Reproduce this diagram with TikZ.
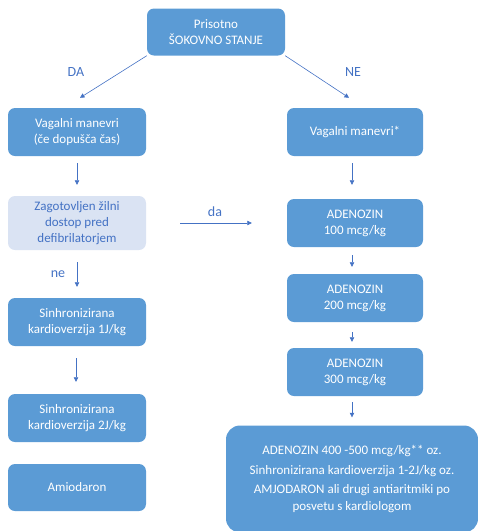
\documentclass[tikz,border=0pt]{standalone}
\usepackage{fontspec}
\setmainfont{Carlito}
\usetikzlibrary{arrows.meta}
\definecolor{boxblue}{HTML}{5B9BD5}
\definecolor{paleblue}{HTML}{DAE3F3}
\definecolor{linkblue}{HTML}{4472C4}
\begin{document}
\begin{tikzpicture}[x=1pt,y=-1pt,
  stepbox/.style={fill=boxblue,rounded corners=7pt,text=white,align=center,
    inner sep=0pt,font=\fontsize{13}{16}\selectfont},
  palebox/.style={stepbox,fill=paleblue,text=linkblue},
  arr/.style={draw=linkblue,line width=0.6pt,-{Triangle[width=4.5pt,length=4.5pt]}},
  lbl/.style={text=linkblue,font=\fontsize{14}{16}\selectfont,inner sep=0pt}]
\useasboundingbox (0,0) rectangle (478,531);

\node[stepbox,minimum width=138pt,minimum height=47pt] (top) at (216,32) {Prisotno\\ŠOKOVNO STANJE};

\node[stepbox,minimum width=138pt,minimum height=48pt] (vm1) at (77,132) {Vagalni manevri\\(če dopušča čas)};
\node[stepbox,minimum width=136pt,minimum height=48pt] (vm2) at (355,132) {Vagalni manevri*};

\node[palebox,minimum width=138pt,minimum height=54pt] (zag) at (77,223) {Zagotovljen žilni\\dostop pred\\defibrilatorjem};
\node[stepbox,minimum width=136pt,minimum height=48pt] (ad1) at (355,223) {ADENOZIN\\100 mcg/kg};
\node[stepbox,minimum width=136pt,minimum height=48pt] (ad2) at (355,298) {ADENOZIN\\200 mcg/kg};
\node[stepbox,minimum width=136pt,minimum height=48pt] (ad3) at (355,372) {ADENOZIN\\300 mcg/kg};

\node[stepbox,minimum width=138pt,minimum height=48pt] (sin1) at (77,322) {Sinhronizirana\\kardioverzija 1J/kg};
\node[stepbox,minimum width=138pt,minimum height=48pt] (sin2) at (77,418) {Sinhronizirana\\kardioverzija 2J/kg};
\node[stepbox,minimum width=138pt,minimum height=47pt] (amio) at (77,487.5) {Amiodaron};

\node[stepbox,rounded corners=14pt,minimum width=252pt,minimum height=107pt,
  font=\fontsize{13}{17}\selectfont] (big) at (352,479)
  {ADENOZIN 400 -500 mcg/kg** oz.\\[3pt]
   Sinhronizirana kardioverzija 1-2J/kg oz.\\[2pt]
   AMJODARON ali drugi antiaritmiki po\\posvetu s kardiologom};

% branches from the first question
\draw[arr] (top.south west) -- ([xshift=3pt,yshift=10pt]vm1.north);
\draw[arr] (top.south east) -- ([xshift=-6pt,yshift=10pt]vm2.north);
\node[lbl] (da1) at (76,72) {DA};
\node[lbl] (ne1) at (353,72) {NE};

% left column
\draw[arr,shorten <=7pt,shorten >=11pt] (vm1.south) -- (zag.north);
\draw[arr,shorten <=12pt,shorten >=11pt] (zag.south) -- (sin1.north);
\node[lbl] (ne2) at (58,274) {ne};
\draw[arr,shorten <=12pt,shorten >=12pt] ([xshift=-1pt]sin1.south) -- ([xshift=-1pt]sin2.north);

% crossing arrow
\draw[arr,shorten <=34pt,shorten >=35pt] (zag.east) -- (ad1.west);
\node[lbl] (da2) at (215,212) {da};

% right column
\draw[arr,shorten <=7pt,shorten >=14pt] ([xshift=-3pt]vm2.south) -- ([xshift=-3pt]ad1.north);
\draw[arr,shorten <=8pt,shorten >=7pt] ([xshift=-3pt]ad1.south) -- ([xshift=-3pt]ad2.north);
\draw[arr,shorten <=10pt,shorten >=6pt] ([xshift=-3pt]ad2.south) -- ([xshift=-3pt]ad3.north);
\draw[arr,shorten <=6pt,shorten >=8pt] ([xshift=-3pt]ad3.south) -- (big.north);
\end{tikzpicture}
\end{document}
